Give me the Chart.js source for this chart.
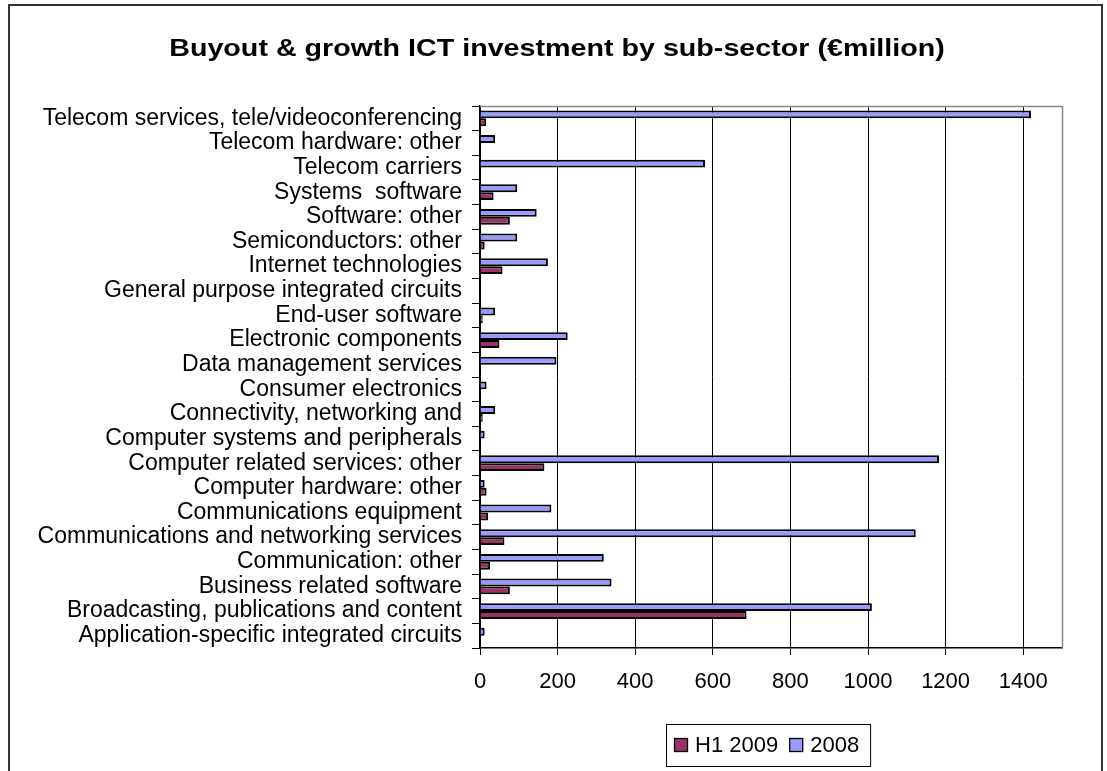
<!DOCTYPE html>
<html>
<head>
<meta charset="utf-8">
<script src="https://cdn.jsdelivr.net/npm/chart.js@4.4.1/dist/chart.umd.min.js"></script>
<style>
  html, body { margin: 0; padding: 0; background: #fff; }
  #wrap { width: 1107px; height: 771px; position: relative; }
</style>
</head>
<body>
<div id="wrap"><canvas id="ict-chart" width="1107" height="771"></canvas></div>
<script>
// Buyout & growth ICT investment by sub-sector (EUR million)

const chartTitle = 'Buyout & growth ICT investment by sub-sector (\u20acmillion)';

const categories = [
    'Telecom services, tele/videoconferencing',
    'Telecom hardware: other',
    'Telecom carriers',
    'Systems  software',
    'Software: other',
    'Semiconductors: other',
    'Internet technologies',
    'General purpose integrated circuits',
    'End-user software',
    'Electronic components',
    'Data management services',
    'Consumer electronics',
    'Connectivity, networking and',
    'Computer systems and peripherals',
    'Computer related services: other',
    'Computer hardware: other',
    'Communications equipment',
    'Communications and networking services',
    'Communication: other',
    'Business related software',
    'Broadcasting, publications and content',
    'Application-specific integrated circuits'
];

const values2008 = [1420, 39, 580, 96, 146, 96, 175, 0, 39, 226, 197, 17, 39, 12, 1183, 12, 184, 1123, 319, 339, 1010, 12];
const valuesH12009 = [16, 0, 0, 35, 77, 12, 58, 0, 7, 50, 0, 0, 7, 0, 166, 17, 21, 63, 26, 77, 687, 0];

const xTicks = [0, 200, 400, 600, 800, 1000, 1200, 1400];

const FONT = "'Liberation Sans', Arial, sans-serif";

// white background, outer chart frame, title, plot border
const framePlugin = {
    id: 'frame',
    beforeDraw(chart) {
        const ctx = chart.ctx;
        ctx.save();
        ctx.fillStyle = '#fff';
        ctx.fillRect(0, 0, chart.width, chart.height);
        ctx.strokeStyle = '#333';
        ctx.lineWidth = 2;
        ctx.strokeRect(9, 5, 1093, 820);

        // title: slightly wide lettering like the original
        ctx.fillStyle = '#000';
        ctx.font = 'bold 24.5px ' + FONT;
        ctx.textAlign = 'center';
        ctx.textBaseline = 'alphabetic';
        ctx.translate(557, 56);
        ctx.scale(1.17, 1);
        ctx.fillText(chartTitle, 0, 0);
        ctx.restore();
    },
    afterDatasetsDraw(chart) {
        const a = chart.chartArea;
        const ctx = chart.ctx;
        ctx.save();
        ctx.strokeStyle = '#888';
        ctx.lineWidth = 1.5;
        ctx.beginPath();
        ctx.moveTo(a.left, a.top + 0.5);
        ctx.lineTo(a.right + 0.5, a.top + 0.5);
        ctx.lineTo(a.right + 0.5, a.bottom);
        ctx.stroke();
        ctx.restore();
    }
};

// boxed legend at bottom, same look as the original
const boxLegendPlugin = {
    id: 'boxLegend',
    afterDraw(chart) {
        const ctx = chart.ctx;
        const items = [chart.data.datasets[1], chart.data.datasets[0]];
        ctx.save();
        ctx.font = '22px ' + FONT;
        ctx.textBaseline = 'middle';
        const left = 666, top = 724, h = 42, cy = top + h / 2;
        let x = left + 8;
        const parts = [];
        items.forEach(ds => {
            const p = { ds, sx: x };
            x += 14 + 7;
            p.tx = x;
            x += ctx.measureText(ds.label).width + 11;
            parts.push(p);
        });
        const right = x;
        ctx.strokeStyle = '#000';
        ctx.lineWidth = 1;
        ctx.strokeRect(left + 0.5, top + 0.5, right - left, h);
        parts.forEach(p => {
            ctx.fillStyle = p.ds.backgroundColor;
            ctx.fillRect(p.sx, cy - 7, 14, 14);
            ctx.strokeStyle = '#000';
            ctx.lineWidth = 1.3;
            ctx.strokeRect(p.sx + 0.5, cy - 6.5, 13, 13);
            ctx.fillStyle = '#000';
            ctx.fillText(p.ds.label, p.tx, cy + 1);
        });
        ctx.restore();
    }
};

const ctx = document.getElementById('ict-chart').getContext('2d');

new Chart(ctx, {
    type: 'bar',
    data: {
        labels: categories,
        datasets: [{
            label: '2008',
            data: values2008,
            backgroundColor: '#9999FF',
            borderColor: '#000',
            borderWidth: 2,
            borderSkipped: 'start'
        }, {
            label: 'H1 2009',
            data: valuesH12009,
            backgroundColor: '#993366',
            borderColor: '#000',
            borderWidth: 2,
            borderSkipped: 'start'
        }]
    },
    options: {
        indexAxis: 'y',
        responsive: false,
        animation: false,
        categoryPercentage: 0.64,
        barPercentage: 1.0,
        layout: {
            padding: { left: 0, right: 45, top: 106, bottom: 0 }
        },
        plugins: {
            legend: { display: false },
            tooltip: { enabled: false },
            title: { display: false }
        },
        scales: {
            x: {
                min: 0,
                max: 1500,
                afterBuildTicks: (scale) => {
                    scale.ticks = xTicks.map(v => ({ value: v }));
                },
                afterFit: (scale) => { scale.height = 123; },
                ticks: {
                    color: '#000',
                    font: { family: FONT, size: 22 },
                    padding: 14,
                    maxRotation: 0,
                    callback: (value) => String(value)
                },
                grid: {
                    color: '#000',
                    lineWidth: 1,
                    tickLength: 7,
                    drawTicks: true
                },
                border: { color: '#000', width: 1.5 }
            },
            y: {
                afterFit: (scale) => { scale.width = 480; },
                ticks: {
                    color: '#000',
                    font: { family: FONT, size: 23 },
                    padding: 10,
                    autoSkip: false
                },
                grid: {
                    drawOnChartArea: false,
                    drawTicks: true,
                    tickLength: 8,
                    color: '#000'
                },
                border: { color: '#000', width: 1.5 }
            }
        }
    },
    plugins: [framePlugin, boxLegendPlugin]
});
</script>
</body>
</html>
